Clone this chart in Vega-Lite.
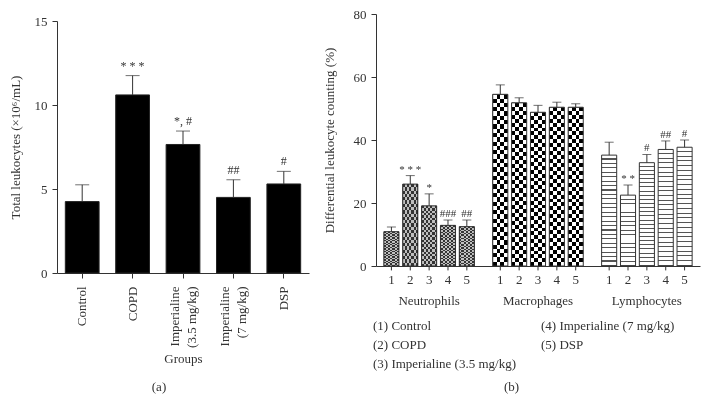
{
"$schema":"https://vega.github.io/schema/vega-lite/v6.json",
"padding":{"left":9,"top":8,"right":5,"bottom":5},
"spacing":14,
"resolve":{"legend":{"shape":"independent"},"scale":{"shape":"independent"}},
"config":{"font":"Liberation Serif","view":{"stroke":null},
 "axis":{"labelFont":"Liberation Serif","titleFont":"Liberation Serif","labelFontSize":13,"titleFontSize":13,"titleFontWeight":"normal","labelColor":"#333","titleColor":"#333","domainColor":"#333","tickColor":"#333","grid":false,"labelPadding":5},
 "title":{"font":"Liberation Serif","fontSize":13,"fontWeight":"normal","color":"#333"},
 "legend":{"labelFont":"Liberation Serif"}},
"datasets":{
 "a":[
  {"g":"Control","v":4.25,"e":5.25,"ann":""},
  {"g":"COPD","v":10.6,"e":11.75,"ann":"* * *"},
  {"g":"Imperialine|(3.5 mg/kg)","v":7.65,"e":8.45,"ann":"*, #"},
  {"g":"Imperialine|(7 mg/kg)","v":4.5,"e":5.55,"ann":"##"},
  {"g":"DSP","v":5.3,"e":6.05,"ann":"#"}
 ],
 "b":[
  {"cell":"Neutrophils","grp":"1","v":10.9,"e":12.4,"ann":"","lab":"(1) Control"},
  {"cell":"Neutrophils","grp":"2","v":26.0,"e":28.7,"ann":"* * *","lab":"(2) COPD"},
  {"cell":"Neutrophils","grp":"3","v":19.1,"e":22.9,"ann":"*","lab":"(3) Imperialine (3.5 mg/kg)"},
  {"cell":"Neutrophils","grp":"4","v":12.9,"e":14.6,"ann":"###","lab":"(4) Imperialine (7 mg/kg)"},
  {"cell":"Neutrophils","grp":"5","v":12.5,"e":14.6,"ann":"##","lab":"(5) DSP"},
  {"cell":"Macrophages","grp":"1","v":54.5,"e":57.5,"ann":"","lab":"(1) Control"},
  {"cell":"Macrophages","grp":"2","v":51.8,"e":53.4,"ann":"","lab":"(2) COPD"},
  {"cell":"Macrophages","grp":"3","v":48.8,"e":51.0,"ann":"","lab":"(3) Imperialine (3.5 mg/kg)"},
  {"cell":"Macrophages","grp":"4","v":50.4,"e":52.0,"ann":"","lab":"(4) Imperialine (7 mg/kg)"},
  {"cell":"Macrophages","grp":"5","v":50.4,"e":51.5,"ann":"","lab":"(5) DSP"},
  {"cell":"Lymphocytes","grp":"1","v":35.2,"e":39.3,"ann":"","lab":"(1) Control"},
  {"cell":"Lymphocytes","grp":"2","v":22.5,"e":25.7,"ann":"* *","lab":"(2) COPD"},
  {"cell":"Lymphocytes","grp":"3","v":32.8,"e":35.4,"ann":"#","lab":"(3) Imperialine (3.5 mg/kg)"},
  {"cell":"Lymphocytes","grp":"4","v":37.0,"e":39.7,"ann":"##","lab":"(4) Imperialine (7 mg/kg)"},
  {"cell":"Lymphocytes","grp":"5","v":37.7,"e":40.0,"ann":"#","lab":"(5) DSP"}
 ]
},
"hconcat":[
 {
  "width":252,"height":259,
  "data":{"name":"a"},
  "title":{"text":"(a)","orient":"bottom","anchor":"middle","frame":"bounds","offset":16},
  "encoding":{
   "x":{"field":"g","type":"nominal","sort":null,"scale":{"paddingInner":0.33,"paddingOuter":0.165},
    "axis":{"title":"Groups","labelAngle":-90,"labelExpr":"split(datum.value,'|')","labelLineHeight":17,"labelPadding":8,"titlePadding":5,
     "labelOffset":{"condition":{"test":"indexof(datum.value,'|')>=0","value":-8.5},"value":0}}},
   "y":{"field":"v","type":"quantitative","scale":{"domain":[0,15],"nice":false,"range":[259,7]},
    "axis":{"values":[0,5,10,15],"title":"Total leukocytes (×10⁶/mL)","titlePadding":12}}
  },
  "layer":[
   {"mark":{"type":"bar","fill":"#000","stroke":"#222","strokeWidth":1}},
   {"mark":{"type":"rule","color":"#333"},"encoding":{"y2":{"field":"e"}}},
   {"mark":{"type":"tick","orient":"horizontal","size":14,"thickness":1,"color":"#333"},"encoding":{"y":{"field":"e","type":"quantitative"}}},
   {"mark":{"type":"text","fontSize":12,"baseline":"alphabetic","dy":-6,"color":"#333"},"encoding":{"y":{"field":"e","type":"quantitative"},"text":{"field":"ann"}}}
  ]
 },
 {
  "width":324,"height":252,
  "data":{"name":"b"},
  "title":{"text":"(b)","orient":"bottom","anchor":"middle","frame":"bounds","offset":10},
  "encoding":{
   "x":{"field":"cell","type":"nominal","sort":["Neutrophils","Macrophages","Lymphocytes"],"scale":{"paddingInner":0.134,"paddingOuter":0.055},
    "axis":{"title":null,"ticks":false,"labelAngle":0,"labelPadding":28}},
   "xOffset":{"field":"grp","type":"nominal","scale":{"paddingInner":0.2,"paddingOuter":0.1}},
   "y":{"field":"v","type":"quantitative","scale":{"domain":[0,80],"nice":false},
    "axis":{"values":[0,20,40,60,80],"title":"Differential leukocyte counting (%)","titlePadding":17}}
  },
  "layer":[
   {"transform":[{"filter":"datum.cell=='Neutrophils'"}],
    "mark":{"type":"bar","fill":{"gradient":"linear","x1":0,"y1":0,"x2":1,"y2":0,"stops":[{"offset":0,"color":"#000"},{"offset":0.1429,"color":"#000"},{"offset":0.1429,"color":"#f2f2f2"},{"offset":0.2857,"color":"#f2f2f2"},{"offset":0.2857,"color":"#000"},{"offset":0.4286,"color":"#000"},{"offset":0.4286,"color":"#f2f2f2"},{"offset":0.5714,"color":"#f2f2f2"},{"offset":0.5714,"color":"#000"},{"offset":0.7143,"color":"#000"},{"offset":0.7143,"color":"#f2f2f2"},{"offset":0.8571,"color":"#f2f2f2"},{"offset":0.8571,"color":"#000"},{"offset":1,"color":"#000"}]}}},
   {"transform":[{"filter":"datum.cell=='Neutrophils'"}],
    "mark":{"type":"bar","blend":"difference","fill":{"gradient":"linear","x1":0,"y1":0,"x2":0,"y2":1,"stops":[{"offset":0,"color":"#333"},{"offset":0.04,"color":"#333"},{"offset":0.04,"color":"#bfbfbf"},{"offset":0.08,"color":"#bfbfbf"},{"offset":0.08,"color":"#333"},{"offset":0.12,"color":"#333"},{"offset":0.12,"color":"#bfbfbf"},{"offset":0.16,"color":"#bfbfbf"},{"offset":0.16,"color":"#333"},{"offset":0.2,"color":"#333"},{"offset":0.2,"color":"#bfbfbf"},{"offset":0.24,"color":"#bfbfbf"},{"offset":0.24,"color":"#333"},{"offset":0.28,"color":"#333"},{"offset":0.28,"color":"#bfbfbf"},{"offset":0.32,"color":"#bfbfbf"},{"offset":0.32,"color":"#333"},{"offset":0.36,"color":"#333"},{"offset":0.36,"color":"#bfbfbf"},{"offset":0.4,"color":"#bfbfbf"},{"offset":0.4,"color":"#333"},{"offset":0.44,"color":"#333"},{"offset":0.44,"color":"#bfbfbf"},{"offset":0.48,"color":"#bfbfbf"},{"offset":0.48,"color":"#333"},{"offset":0.52,"color":"#333"},{"offset":0.52,"color":"#bfbfbf"},{"offset":0.56,"color":"#bfbfbf"},{"offset":0.56,"color":"#333"},{"offset":0.6,"color":"#333"},{"offset":0.6,"color":"#bfbfbf"},{"offset":0.64,"color":"#bfbfbf"},{"offset":0.64,"color":"#333"},{"offset":0.68,"color":"#333"},{"offset":0.68,"color":"#bfbfbf"},{"offset":0.72,"color":"#bfbfbf"},{"offset":0.72,"color":"#333"},{"offset":0.76,"color":"#333"},{"offset":0.76,"color":"#bfbfbf"},{"offset":0.8,"color":"#bfbfbf"},{"offset":0.8,"color":"#333"},{"offset":0.84,"color":"#333"},{"offset":0.84,"color":"#bfbfbf"},{"offset":0.88,"color":"#bfbfbf"},{"offset":0.88,"color":"#333"},{"offset":0.92,"color":"#333"},{"offset":0.92,"color":"#bfbfbf"},{"offset":0.96,"color":"#bfbfbf"},{"offset":0.96,"color":"#333"},{"offset":1,"color":"#333"}]}}},
   {"transform":[{"filter":"datum.cell=='Macrophages'"}],
    "mark":{"type":"bar","fill":{"gradient":"linear","x1":0,"y1":0,"x2":1,"y2":0,"stops":[{"offset":0,"color":"#000"},{"offset":0.25,"color":"#000"},{"offset":0.25,"color":"#fff"},{"offset":0.5,"color":"#fff"},{"offset":0.5,"color":"#000"},{"offset":0.75,"color":"#000"},{"offset":0.75,"color":"#fff"},{"offset":1,"color":"#fff"}]}}},
   {"transform":[{"filter":"datum.cell=='Macrophages'"}],
    "mark":{"type":"bar","blend":"difference","fill":{"gradient":"linear","x1":0,"y1":0,"x2":0,"y2":1,"stops":[{"offset":0,"color":"#fff"},{"offset":0.025,"color":"#fff"},{"offset":0.025,"color":"#000"},{"offset":0.05,"color":"#000"},{"offset":0.05,"color":"#fff"},{"offset":0.075,"color":"#fff"},{"offset":0.075,"color":"#000"},{"offset":0.1,"color":"#000"},{"offset":0.1,"color":"#fff"},{"offset":0.125,"color":"#fff"},{"offset":0.125,"color":"#000"},{"offset":0.15,"color":"#000"},{"offset":0.15,"color":"#fff"},{"offset":0.175,"color":"#fff"},{"offset":0.175,"color":"#000"},{"offset":0.2,"color":"#000"},{"offset":0.2,"color":"#fff"},{"offset":0.225,"color":"#fff"},{"offset":0.225,"color":"#000"},{"offset":0.25,"color":"#000"},{"offset":0.25,"color":"#fff"},{"offset":0.275,"color":"#fff"},{"offset":0.275,"color":"#000"},{"offset":0.3,"color":"#000"},{"offset":0.3,"color":"#fff"},{"offset":0.325,"color":"#fff"},{"offset":0.325,"color":"#000"},{"offset":0.35,"color":"#000"},{"offset":0.35,"color":"#fff"},{"offset":0.375,"color":"#fff"},{"offset":0.375,"color":"#000"},{"offset":0.4,"color":"#000"},{"offset":0.4,"color":"#fff"},{"offset":0.425,"color":"#fff"},{"offset":0.425,"color":"#000"},{"offset":0.45,"color":"#000"},{"offset":0.45,"color":"#fff"},{"offset":0.475,"color":"#fff"},{"offset":0.475,"color":"#000"},{"offset":0.5,"color":"#000"},{"offset":0.5,"color":"#fff"},{"offset":0.525,"color":"#fff"},{"offset":0.525,"color":"#000"},{"offset":0.55,"color":"#000"},{"offset":0.55,"color":"#fff"},{"offset":0.575,"color":"#fff"},{"offset":0.575,"color":"#000"},{"offset":0.6,"color":"#000"},{"offset":0.6,"color":"#fff"},{"offset":0.625,"color":"#fff"},{"offset":0.625,"color":"#000"},{"offset":0.65,"color":"#000"},{"offset":0.65,"color":"#fff"},{"offset":0.675,"color":"#fff"},{"offset":0.675,"color":"#000"},{"offset":0.7,"color":"#000"},{"offset":0.7,"color":"#fff"},{"offset":0.725,"color":"#fff"},{"offset":0.725,"color":"#000"},{"offset":0.75,"color":"#000"},{"offset":0.75,"color":"#fff"},{"offset":0.775,"color":"#fff"},{"offset":0.775,"color":"#000"},{"offset":0.8,"color":"#000"},{"offset":0.8,"color":"#fff"},{"offset":0.825,"color":"#fff"},{"offset":0.825,"color":"#000"},{"offset":0.85,"color":"#000"},{"offset":0.85,"color":"#fff"},{"offset":0.875,"color":"#fff"},{"offset":0.875,"color":"#000"},{"offset":0.9,"color":"#000"},{"offset":0.9,"color":"#fff"},{"offset":0.925,"color":"#fff"},{"offset":0.925,"color":"#000"},{"offset":0.95,"color":"#000"},{"offset":0.95,"color":"#fff"},{"offset":0.975,"color":"#fff"},{"offset":0.975,"color":"#000"},{"offset":1,"color":"#000"}]}}},
   {"transform":[{"filter":"datum.cell=='Lymphocytes' && datum.grp!='2'"}],
    "mark":{"type":"bar","fill":{"gradient":"linear","x1":0,"y1":0,"x2":0,"y2":1,"stops":[{"offset":0,"color":"#fff"},{"offset":0.03,"color":"#fff"},{"offset":0.03,"color":"#555"},{"offset":0.04,"color":"#555"},{"offset":0.04,"color":"#fff"},{"offset":0.07,"color":"#fff"},{"offset":0.07,"color":"#555"},{"offset":0.08,"color":"#555"},{"offset":0.08,"color":"#fff"},{"offset":0.11,"color":"#fff"},{"offset":0.11,"color":"#555"},{"offset":0.12,"color":"#555"},{"offset":0.12,"color":"#fff"},{"offset":0.15,"color":"#fff"},{"offset":0.15,"color":"#555"},{"offset":0.16,"color":"#555"},{"offset":0.16,"color":"#fff"},{"offset":0.19,"color":"#fff"},{"offset":0.19,"color":"#555"},{"offset":0.2,"color":"#555"},{"offset":0.2,"color":"#fff"},{"offset":0.23,"color":"#fff"},{"offset":0.23,"color":"#555"},{"offset":0.24,"color":"#555"},{"offset":0.24,"color":"#fff"},{"offset":0.27,"color":"#fff"},{"offset":0.27,"color":"#555"},{"offset":0.28,"color":"#555"},{"offset":0.28,"color":"#fff"},{"offset":0.31,"color":"#fff"},{"offset":0.31,"color":"#555"},{"offset":0.32,"color":"#555"},{"offset":0.32,"color":"#fff"},{"offset":0.35,"color":"#fff"},{"offset":0.35,"color":"#555"},{"offset":0.36,"color":"#555"},{"offset":0.36,"color":"#fff"},{"offset":0.39,"color":"#fff"},{"offset":0.39,"color":"#555"},{"offset":0.4,"color":"#555"},{"offset":0.4,"color":"#fff"},{"offset":0.43,"color":"#fff"},{"offset":0.43,"color":"#555"},{"offset":0.44,"color":"#555"},{"offset":0.44,"color":"#fff"},{"offset":0.47,"color":"#fff"},{"offset":0.47,"color":"#555"},{"offset":0.48,"color":"#555"},{"offset":0.48,"color":"#fff"},{"offset":0.51,"color":"#fff"},{"offset":0.51,"color":"#555"},{"offset":0.52,"color":"#555"},{"offset":0.52,"color":"#fff"},{"offset":0.55,"color":"#fff"},{"offset":0.55,"color":"#555"},{"offset":0.56,"color":"#555"},{"offset":0.56,"color":"#fff"},{"offset":0.59,"color":"#fff"},{"offset":0.59,"color":"#555"},{"offset":0.6,"color":"#555"},{"offset":0.6,"color":"#fff"},{"offset":0.63,"color":"#fff"},{"offset":0.63,"color":"#555"},{"offset":0.64,"color":"#555"},{"offset":0.64,"color":"#fff"},{"offset":0.67,"color":"#fff"},{"offset":0.67,"color":"#555"},{"offset":0.68,"color":"#555"},{"offset":0.68,"color":"#fff"},{"offset":0.71,"color":"#fff"},{"offset":0.71,"color":"#555"},{"offset":0.72,"color":"#555"},{"offset":0.72,"color":"#fff"},{"offset":0.75,"color":"#fff"},{"offset":0.75,"color":"#555"},{"offset":0.76,"color":"#555"},{"offset":0.76,"color":"#fff"},{"offset":0.79,"color":"#fff"},{"offset":0.79,"color":"#555"},{"offset":0.8,"color":"#555"},{"offset":0.8,"color":"#fff"},{"offset":0.83,"color":"#fff"},{"offset":0.83,"color":"#555"},{"offset":0.84,"color":"#555"},{"offset":0.84,"color":"#fff"},{"offset":0.87,"color":"#fff"},{"offset":0.87,"color":"#555"},{"offset":0.88,"color":"#555"},{"offset":0.88,"color":"#fff"},{"offset":0.91,"color":"#fff"},{"offset":0.91,"color":"#555"},{"offset":0.92,"color":"#555"},{"offset":0.92,"color":"#fff"},{"offset":0.95,"color":"#fff"},{"offset":0.95,"color":"#555"},{"offset":0.96,"color":"#555"},{"offset":0.96,"color":"#fff"},{"offset":0.99,"color":"#fff"},{"offset":0.99,"color":"#555"},{"offset":1,"color":"#555"}]}}},
   {"transform":[{"filter":"datum.cell=='Lymphocytes' && datum.grp=='2'"}],
    "mark":{"type":"bar","fill":{"gradient":"linear","x1":0,"y1":0,"x2":0,"y2":1,"stops":[{"offset":0,"color":"#fff"},{"offset":0.05,"color":"#fff"},{"offset":0.05,"color":"#555"},{"offset":0.0625,"color":"#555"},{"offset":0.0625,"color":"#fff"},{"offset":0.1125,"color":"#fff"},{"offset":0.1125,"color":"#555"},{"offset":0.125,"color":"#555"},{"offset":0.125,"color":"#fff"},{"offset":0.175,"color":"#fff"},{"offset":0.175,"color":"#555"},{"offset":0.1875,"color":"#555"},{"offset":0.1875,"color":"#fff"},{"offset":0.2375,"color":"#fff"},{"offset":0.2375,"color":"#555"},{"offset":0.25,"color":"#555"},{"offset":0.25,"color":"#fff"},{"offset":0.3,"color":"#fff"},{"offset":0.3,"color":"#555"},{"offset":0.3125,"color":"#555"},{"offset":0.3125,"color":"#fff"},{"offset":0.3625,"color":"#fff"},{"offset":0.3625,"color":"#555"},{"offset":0.375,"color":"#555"},{"offset":0.375,"color":"#fff"},{"offset":0.425,"color":"#fff"},{"offset":0.425,"color":"#555"},{"offset":0.4375,"color":"#555"},{"offset":0.4375,"color":"#fff"},{"offset":0.4875,"color":"#fff"},{"offset":0.4875,"color":"#555"},{"offset":0.5,"color":"#555"},{"offset":0.5,"color":"#fff"},{"offset":0.55,"color":"#fff"},{"offset":0.55,"color":"#555"},{"offset":0.5625,"color":"#555"},{"offset":0.5625,"color":"#fff"},{"offset":0.6125,"color":"#fff"},{"offset":0.6125,"color":"#555"},{"offset":0.625,"color":"#555"},{"offset":0.625,"color":"#fff"},{"offset":0.675,"color":"#fff"},{"offset":0.675,"color":"#555"},{"offset":0.6875,"color":"#555"},{"offset":0.6875,"color":"#fff"},{"offset":0.7375,"color":"#fff"},{"offset":0.7375,"color":"#555"},{"offset":0.75,"color":"#555"},{"offset":0.75,"color":"#fff"},{"offset":0.8,"color":"#fff"},{"offset":0.8,"color":"#555"},{"offset":0.8125,"color":"#555"},{"offset":0.8125,"color":"#fff"},{"offset":0.8625,"color":"#fff"},{"offset":0.8625,"color":"#555"},{"offset":0.875,"color":"#555"},{"offset":0.875,"color":"#fff"},{"offset":0.925,"color":"#fff"},{"offset":0.925,"color":"#555"},{"offset":0.9375,"color":"#555"},{"offset":0.9375,"color":"#fff"},{"offset":0.9875,"color":"#fff"},{"offset":0.9875,"color":"#555"},{"offset":1,"color":"#555"}]}}},
   {"mark":{"type":"bar","fillOpacity":0,"stroke":"#333","strokeWidth":1}},
   {"mark":{"type":"rule","color":"#333"},"encoding":{"y2":{"field":"e"}}},
   {"mark":{"type":"tick","orient":"horizontal","size":9,"thickness":1,"color":"#333"},"encoding":{"y":{"field":"e","type":"quantitative"}}},
   {"mark":{"type":"text","fontSize":11,"baseline":"alphabetic","dy":-3,"color":"#333"},"encoding":{"y":{"field":"e","type":"quantitative"},"text":{"field":"ann"}}},
   {"mark":{"type":"rule","color":"#333"},"encoding":{"y":{"datum":0},"y2":{"datum":-1.4}}},
   {"mark":{"type":"text","fontSize":13,"baseline":"middle","dy":14,"color":"#333"},"encoding":{"y":{"datum":0},"text":{"field":"grp"}}},
   {"mark":{"type":"point","opacity":0,"size":0},
    "encoding":{"y":{"datum":0},
     "shape":{"field":"lab","type":"nominal","sort":["(1) Control","(2) COPD","(3) Imperialine (3.5 mg/kg)","(4) Imperialine (7 mg/kg)","(5) DSP"],
      "legend":{"title":null,"orient":"none","legendX":-16,"legendY":305,"columns":2,"columnPadding":12,"rowPadding":5,"symbolOpacity":0,"symbolSize":0,"symbolStrokeWidth":0,"labelOffset":0,"labelFontSize":13,"labelColor":"#333","labelFont":"Liberation Serif"}}}}
  ]
 }
]
}
